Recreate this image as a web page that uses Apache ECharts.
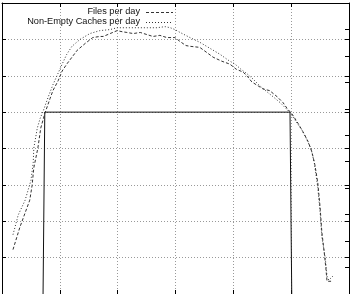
<!DOCTYPE html>
<html>
<head>
<meta charset="utf-8">
<script src="https://cdn.jsdelivr.net/npm/echarts@6/dist/echarts.min.js"></script>
<style>html,body{margin:0;padding:0;background:#fff;}#c{width:353px;height:294px;}</style>
</head>
<body>
<div id="c"></div>
<script>
// Files per day (dashed)
const filesX = [0.19,0.31,0.48,0.52,0.55,0.62,0.67,0.74,0.83,0.88,0.97,1.04,1.12,1.21,1.30,1.44,1.57,1.69,1.75,1.87,1.99,2.08,2.16,2.27,2.39,2.51,2.61,2.73,2.85,2.99,3.08,3.18,3.25,3.42,3.54,3.65,3.80,3.94,4.05,4.17,4.25,4.32,4.43,4.51,4.63,4.76,4.86,4.93,5.01,5.12,5.20,5.29,5.36,5.41,5.46,5.50,5.53,5.57,5.60,5.62,5.69];
const filesY = [1.22,1.84,2.58,2.98,3.47,4.01,4.56,4.96,5.37,5.59,5.86,6.13,6.32,6.51,6.70,6.89,7.05,7.08,7.08,7.16,7.24,7.21,7.19,7.16,7.19,7.13,7.08,7.11,7.05,7.05,6.94,6.83,6.81,6.78,6.64,6.51,6.40,6.32,6.18,6.10,5.97,5.83,5.72,5.64,5.59,5.42,5.26,5.10,4.96,4.69,4.47,4.20,3.90,3.55,3.06,2.39,1.71,1.17,0.71,0.35,0.35];
// Non-Empty Caches per day (dotted)
const cachesX = [0.19,0.28,0.40,0.50,0.54,0.55,0.61,0.66,0.71,0.80,0.88,0.97,1.04,1.12,1.21,1.35,1.52,1.69,1.87,1.99,2.16,2.33,2.51,2.68,2.82,2.91,2.99,3.08,3.25,3.42,3.60,3.77,3.91,4.03,4.13,4.24,4.34,4.46,4.58,4.69,4.81,4.91,4.98,5.08,5.19,5.26,5.34,5.40,5.46,5.50,5.53,5.59,5.62,5.65,5.72];
const cachesY = [1.63,2.17,2.58,3.12,3.61,4.01,4.56,4.83,5.02,5.42,5.75,6.07,6.32,6.59,6.81,7.00,7.16,7.24,7.27,7.32,7.32,7.32,7.32,7.32,7.35,7.32,7.27,7.19,7.05,6.92,6.75,6.59,6.43,6.32,6.18,6.05,5.91,5.72,5.56,5.42,5.26,5.10,4.99,4.75,4.50,4.28,4.01,3.61,2.93,2.25,1.57,0.98,0.49,0.38,0.49];
// solid window
const windowX = [0.71,0.74,4.98,5.01];
const windowY = [0,5,5,0];
const legendNames = ['Files per day','Non-Empty Caches per day'];

const zip = (xs, ys) => xs.map((x, i) => [x, ys[i]]);
const chart = echarts.init(document.getElementById('c'), null, {renderer: 'canvas'});
const font = 'Liberation Sans, Arial, sans-serif';
const axisLine = {show: true, onZero: false, lineStyle: {color: '#000', width: 1}};
const tick = {show: true, inside: true, length: 4, lineStyle: {color: '#000'}};
const grid = {show: true, lineStyle: {color: '#999', type: [1, 2], width: 1}};
const gridBox = {left: 2, right: 4, top: 3, bottom: -4, containLabel: false};
chart.setOption({
  animation: false,
  backgroundColor: '#fff',
  grid: [Object.assign({}, gridBox), Object.assign({}, gridBox)],
  xAxis: [
    {gridIndex: 0, type: 'value', min: 0, max: 6, interval: 1, position: 'bottom', axisLine, axisTick: tick, axisLabel: {show: false}, splitLine: grid},
    {gridIndex: 0, type: 'value', min: 0, max: 6, interval: 1, position: 'top', axisLine, axisTick: tick, axisLabel: {show: false}, splitLine: {show: false}},
    {gridIndex: 1, type: 'value', min: 0, max: 6, show: false}
  ],
  yAxis: [
    {gridIndex: 0, type: 'value', min: 0, max: 8, interval: 1, position: 'left', axisLine, axisTick: tick, axisLabel: {show: false}, splitLine: grid},
    {gridIndex: 0, type: 'value', min: 0, max: 8, interval: 1, position: 'right', axisLine, axisTick: tick, axisLabel: {show: false}, splitLine: {show: false}},
    {gridIndex: 1, type: 'value', min: 0, max: 11, interval: 1, position: 'right', axisLine: {show: false, onZero: false}, axisTick: tick, axisLabel: {show: false}, splitLine: {show: false}}
  ],
  series: [
    {name: 'window', type: 'line', xAxisIndex: 0, yAxisIndex: 0, data: zip(windowX, windowY), showSymbol: false, lineStyle: {color: '#111', width: 1}, z: 3},
    {name: legendNames[0], type: 'line', xAxisIndex: 0, yAxisIndex: 0, data: zip(filesX, filesY), showSymbol: false, lineStyle: {color: '#333', width: 1, type: [3, 2]}, z: 4},
    {name: legendNames[1], type: 'line', xAxisIndex: 0, yAxisIndex: 0, data: zip(cachesX, cachesY), showSymbol: false, lineStyle: {color: '#333', width: 1, type: [1, 2]}, z: 4}
  ],
  graphic: [
    {type: 'text', right: 353 - 140, top: 7, style: {text: legendNames[0], font: '9.2px ' + font, fill: '#111', textAlign: 'right'}},
    {type: 'text', right: 353 - 140, top: 17, style: {text: legendNames[1], font: '9.2px ' + font, fill: '#111', textAlign: 'right'}},
    {type: 'line', shape: {x1: 146, y1: 12.5, x2: 173, y2: 12.5}, style: {stroke: '#333', lineWidth: 1, lineDash: [3, 2]}},
    {type: 'line', shape: {x1: 146, y1: 22.5, x2: 173, y2: 22.5}, style: {stroke: '#333', lineWidth: 1, lineDash: [1, 2]}}
  ]
});
</script>
</body>
</html>
